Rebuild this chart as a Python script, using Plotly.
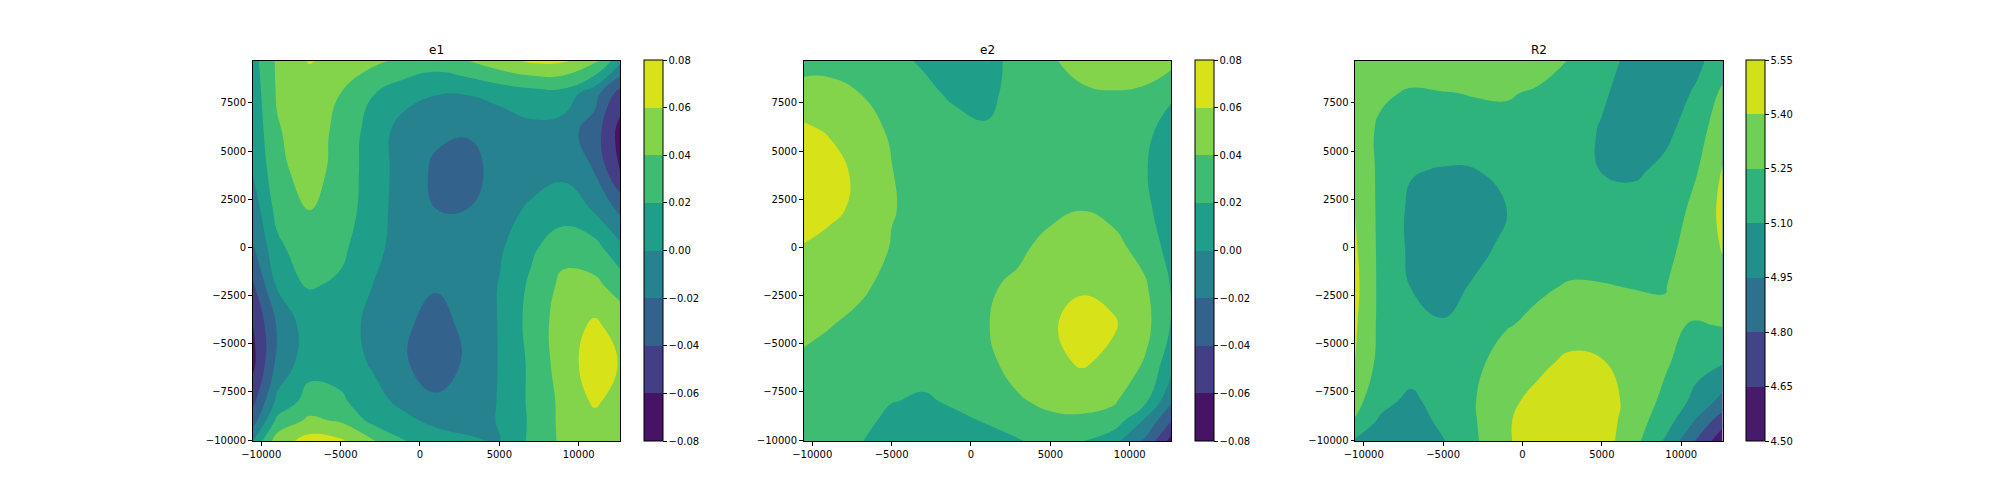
import plotly.graph_objects as go

# ---- data ----
x_vals = [-10550,-9000,-7000,-5000,-3000,-1000,1000,3000,5000,7000,9000,11000,12600]
y_vals = [9700,8000,6000,4000,2000,0,-2000,-4000,-6000,-8000,-9000,-10050]

e1 = [
 [.012,.043,.061,.056,.045,.036,.030,.040,.053,.064,.063,.047,.006],
 [.008,.042,.052,.040,.021,.008,.001,.001,.007,.012,.013,-.012,-.048],
 [.005,.038,.051,.034,.012,-.009,-.017,-.019,-.014,-.006,-.010,-.030,-.067],
 [.001,.033,.051,.031,.012,-.010,-.023,-.025,-.015,-.009,-.004,-.021,-.061],
 [-.012,.027,.041,.031,.010,-.010,-.020,-.020,-.008,.003,.009,-.002,-.025],
 [-.023,.015,.034,.024,.008,-.012,-.016,-.015,-.003,.016,.033,.027,.005],
 [-.044,.002,.0215,.017,.000,-.012,-.018,-.014,.001,.024,.045,.045,.032],
 [-.061,-.018,.011,.007,-.004,-.016,-.029,-.014,.001,.027,.050,.063,.052],
 [-.066,-.015,.012,.010,-.002,-.018,-.030,-.017,.001,.024,.050,.070,.059],
 [-.046,.005,.028,.024,.007,-.005,-.017,-.010,.001,.024,.045,.063,.052],
 [-.030,.025,.044,.038,.015,.005,-.005,-.007,.001,.023,.045,.054,.048],
 [.000,.050,.068,.063,.042,.021,.010,.003,.000,.024,.044,.051,.045],
]
e2 = [
 [.032,.034,.032,.024,.018,.010,.012,.028,.037,.050,.050,.052,.047],
 [.048,.046,.040,.032,.024,.017,.013,.031,.035,.036,.039,.036,.023],
 [.064,.059,.051,.037,.030,.026,.023,.032,.033,.032,.030,.024,.012],
 [.072,.067,.056,.0405,.033,.030,.030,.033,.033,.034,.033,.021,.009],
 [.069,.066,.055,.041,.035,.032,.033,.035,.036,.0395,.035,.024,.009],
 [.059,.053,.051,.039,.033,.033,.036,.037,.045,.050,.045,.033,.012],
 [.051,.048,.043,.035,.031,.032,.038,.043,.053,.058,.054,.042,.019],
 [.043,.041,.036,.031,.029,.030,.039,.050,.058,.066,.062,.046,.019],
 [.038,.034,.031,.028,.026,.027,.036,.047,.055,.062,.055,.038,.008],
 [.033,.030,.028,.0205,.018,.022,.029,.038,.044,.047,.042,.023,-.017],
 [.030,.028,.026,.015,.012,.017,.021,.027,.036,.036,.032,-.004,-.039],
 [.027,.024,.021,.012,.009,.013,.015,.019,.026,.021,.006,-.024,-.067],
]
R2 = [
 [5.30,5.32,5.35,5.34,5.33,5.34,5.30,5.245,5.14,5.07,5.05,5.07,5.17],
 [5.33,5.28,5.23,5.245,5.255,5.26,5.235,5.20,5.115,5.05,5.03,5.12,5.28],
 [5.36,5.22,5.18,5.19,5.21,5.21,5.19,5.15,5.09,5.02,5.06,5.20,5.33],
 [5.38,5.22,5.11,5.09,5.095,5.14,5.17,5.16,5.095,5.07,5.14,5.245,5.41],
 [5.395,5.22,5.07,5.05,5.05,5.10,5.15,5.17,5.15,5.17,5.19,5.28,5.44],
 [5.42,5.22,5.07,5.03,5.06,5.13,5.17,5.19,5.20,5.22,5.22,5.30,5.41],
 [5.44,5.22,5.095,5.05,5.115,5.19,5.23,5.26,5.255,5.245,5.245,5.34,5.36],
 [5.42,5.22,5.14,5.11,5.17,5.24,5.28,5.33,5.33,5.30,5.27,5.24,5.26],
 [5.40,5.205,5.18,5.20,5.22,5.31,5.37,5.43,5.41,5.34,5.27,5.15,5.11],
 [5.30,5.15,5.06,5.18,5.245,5.37,5.44,5.49,5.47,5.35,5.21,5.05,4.90],
 [5.24,5.08,5.02,5.14,5.24,5.385,5.47,5.50,5.48,5.32,5.17,4.93,4.71],
 [5.08,5.02,5.00,5.09,5.23,5.38,5.49,5.51,5.47,5.30,5.08,4.78,4.55],
]

titles = ["e1", "e2", "R2"]
e_levels = [-0.08,-0.06,-0.04,-0.02,0.00,0.02,0.04,0.06,0.08]
r_levels = [4.50,4.65,4.80,4.95,5.10,5.25,5.40,5.55]
e_colors = ["#471365","#433e85","#33638d","#26828e","#1f9e89","#3fbc73","#84d44b","#d8e219"]
r_colors = ["#481a6c","#414487","#2d718e","#21908d","#2eb37c","#70cf57","#d0e11c"]
x_ticks = [-10000,-5000,0,5000,10000]
y_ticks = [-10000,-7500,-5000,-2500,0,2500,5000,7500]

W, H = 2016, 504
x_dom = [(252.5,620),(803.5,1171),(1355,1722.5)]
cb_x = [643.5,1194.5,1745.5]
Y_TOP, Y_BOT = 60.5, 441
FONT = "DejaVu Sans"

def band_scale(levels, colors):
    lo, hi = levels[0], levels[-1]
    out = []
    for i,c in enumerate(colors):
        out += [[(levels[i]-lo)/(hi-lo),c],[(levels[i+1]-lo)/(hi-lo),c]]
    return out

fig = go.Figure()
panels = [(e1,e_levels,e_colors),(e2,e_levels,e_colors),(R2,r_levels,r_colors)]
for i,(z,lv,cl) in enumerate(panels):
    n = "" if i==0 else str(i+1)
    cs = lv[1]-lv[0]
    fig.add_trace(go.Contour(
        x=x_vals, y=y_vals[::-1], z=z[::-1],
        xaxis="x"+n, yaxis="y"+n,
        autocontour=False,
        contours=dict(start=lv[0],end=lv[-1],size=cs,coloring="fill",showlines=False),
        line=dict(width=0,smoothing=1.3),
        colorscale=band_scale(lv,cl),
        zmin=lv[0],zmax=lv[-1]+cs*0.001,
        hoverinfo="skip",
        colorbar=dict(
            x=cb_x[i]/W,xanchor="left",xpad=0,ypad=0,
            y=1-Y_BOT/H,yanchor="bottom",
            len=(Y_BOT-Y_TOP)/H,lenmode="fraction",
            thickness=19,thicknessmode="pixels",
            outlinewidth=1,outlinecolor="black",
            tickmode="array",tickvals=lv,tickformat=".2f",
            ticks="outside",ticklen=3.5,tickwidth=0.8,tickcolor="black",
            tickfont=dict(family=FONT,size=10,color="black"),
        ),
    ))
    ax = dict(showline=True,mirror=True,linecolor="black",linewidth=1,showgrid=False,zeroline=False,
              ticks="outside",ticklen=3.5,tickwidth=0.8,tickcolor="black",tickmode="array",
              tickformat="d",tickfont=dict(family=FONT,size=10,color="black"))
    fig.update_layout(**{
        "xaxis"+n: dict(ax,domain=[x_dom[i][0]/W,x_dom[i][1]/W],range=[x_vals[0],x_vals[-1]],
                        tickvals=x_ticks,anchor="y"+n),
        "yaxis"+n: dict(ax,domain=[1-Y_BOT/H,1-Y_TOP/H],range=[y_vals[-1],y_vals[0]],
                        tickvals=y_ticks,anchor="x"+n),
    })
    fig.add_annotation(text=titles[i],x=(x_dom[i][0]+x_dom[i][1])/2/W,y=1-Y_TOP/H,xref="paper",yref="paper",
                       xanchor="center",yanchor="bottom",yshift=2,showarrow=False,
                       font=dict(family=FONT,size=12,color="black"))

fig.update_layout(width=W,height=H,margin=dict(l=0,r=0,t=0,b=0,autoexpand=False),paper_bgcolor="white",plot_bgcolor="white",
                  showlegend=False,font=dict(family=FONT))
fig.write_html("out.html",config=dict(displayModeBar=False),post_script="document.body.style.margin='0';")
